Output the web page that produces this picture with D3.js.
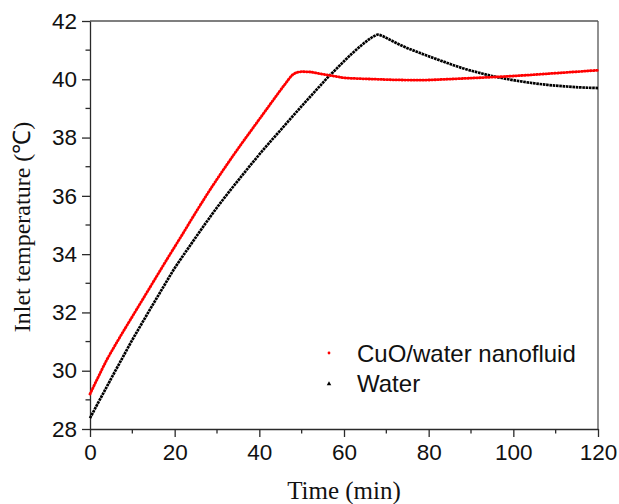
<!DOCTYPE html>
<html>
<head>
<meta charset="utf-8">
<script src="https://cdn.jsdelivr.net/npm/d3@7"></script>
<style>
  html, body { margin: 0; padding: 0; background: #fff; }
  svg { display: block; }
</style>
</head>
<body>
<svg id="chart" width="619" height="504"></svg>
<script>
// ---- data ----
const cuoTime = [0,2,4,6,8,10,12,14,16,18,20,22,24,26,28,30,32,34,36,38,40,42,44,46,48,49,50,52,54,56,58,60,64,68,72,78,84,90,96,102,108,114,120];
const cuoTemp = [29.2,29.8,30.38,30.89,31.38,31.86,32.34,32.82,33.3,33.78,34.25,34.72,35.2,35.67,36.13,36.57,37.0,37.42,37.83,38.23,38.63,39.03,39.43,39.82,40.17,40.24,40.26,40.25,40.2,40.15,40.1,40.05,40.02,40.0,39.98,39.97,40.0,40.04,40.08,40.13,40.19,40.25,40.31];

const waterTime = [0,2,4,6,8,10,12,14,16,18,20,22,24,26,28,30,32,34,36,38,40,42,44,46,48,50,52,54,56,58,60,62,64,66,67,68,69,70,72,74,76,78,80,84,88,92,96,100,104,108,112,116,120];
const waterTemp = [28.37,28.92,29.46,30.0,30.53,31.06,31.56,32.06,32.55,33.04,33.52,33.95,34.37,34.79,35.2,35.6,35.98,36.35,36.71,37.07,37.42,37.76,38.09,38.42,38.75,39.08,39.4,39.72,40.04,40.33,40.62,40.9,41.15,41.38,41.47,41.53,41.49,41.42,41.27,41.13,41.01,40.9,40.79,40.58,40.38,40.22,40.08,39.97,39.88,39.81,39.76,39.72,39.7];

const seriesNames = ["CuO/water nanofluid", "Water"];
const xTicks = [0,20,40,60,80,100,120];
const yTicks = [28,30,32,34,36,38,40,42];
const xMinorTicks = [10,30,50,70,90,110];
const yMinorTicks = [29,31,33,35,37,39,41];
const xTitle = "Time (min)";
const yTitle = "Inlet temperature (\u2103)";

// ---- layout ----
const svg = d3.select("#chart");
const L = 90, R = 598, T = 21, B = 429;
const x = d3.scaleLinear().domain([0,120]).range([L,R]);
const y = d3.scaleLinear().domain([28,42]).range([B,T]);
const axisColor = "#2a2a2a";
const tickFont = "'Liberation Sans', Arial, sans-serif";
const titleFont = "'Liberation Serif', 'Times New Roman', serif";

svg.append("rect").attr("width",619).attr("height",504).attr("fill","#fff");

// frame (top & right)
svg.append("line").attr("x1",L).attr("x2",R).attr("y1",T).attr("y2",T).attr("stroke","#555").attr("stroke-width",1.3);
svg.append("line").attr("x1",R).attr("x2",R).attr("y1",T).attr("y2",B).attr("stroke","#555").attr("stroke-width",1.3);

// bottom axis
const gx = svg.append("g").attr("transform",`translate(0,${B})`)
  .call(d3.axisBottom(x).tickValues(xTicks).tickSize(8).tickPadding(7).tickSizeOuter(0));
gx.append("g").selectAll("line").data(xMinorTicks).join("line")
  .attr("x1",d=>x(d)).attr("x2",d=>x(d)).attr("y1",0).attr("y2",4.5)
  .attr("stroke",axisColor).attr("stroke-width",1.3);

// left axis
const gy = svg.append("g").attr("transform",`translate(${L},0)`)
  .call(d3.axisLeft(y).tickValues(yTicks).tickSize(8).tickPadding(5).tickSizeOuter(0));
gy.append("g").selectAll("line").data(yMinorTicks).join("line")
  .attr("y1",d=>y(d)).attr("y2",d=>y(d)).attr("x1",0).attr("x2",-4.5)
  .attr("stroke",axisColor).attr("stroke-width",1.3);

[gx, gy].forEach(g => {
  g.select(".domain").attr("stroke",axisColor).attr("stroke-width",1.3);
  g.selectAll(".tick line").attr("stroke",axisColor).attr("stroke-width",1.3);
  g.selectAll(".tick text").attr("fill","#111").attr("font-family",tickFont).attr("font-size",22.5);
});

// axis titles
svg.append("text").attr("x",(L+R)/2).attr("y",499).attr("text-anchor","middle")
  .attr("font-family",titleFont).attr("font-size",25).attr("fill","#111").text(xTitle);
svg.append("text").attr("transform",`translate(30,${(T+B)/2+2}) rotate(-90)`).attr("text-anchor","middle")
  .attr("font-family",titleFont).attr("font-size",24).attr("fill","#111").text(yTitle);

// series
const cuo = cuoTime.map((t,i)=>[t,cuoTemp[i]]);
const water = waterTime.map((t,i)=>[t,waterTemp[i]]);
const line = d3.line().x(d=>x(d[0])).y(d=>y(d[1])).curve(d3.curveMonotoneX);

svg.append("path").datum(water).attr("d",line).attr("fill","none")
  .attr("stroke","#000").attr("stroke-width",2.7).attr("stroke-dasharray","2.6 0.7");
svg.append("path").datum(cuo).attr("d",line).attr("fill","none")
  .attr("stroke","#ff0000").attr("stroke-width",2.8).attr("stroke-linecap","round").attr("stroke-dasharray","0.8 2.2");

// legend
const legY = [353, 383];
svg.append("circle").attr("cx",329).attr("cy",legY[0]).attr("r",1.4).attr("fill","#ff0000");
svg.append("path").attr("d",d3.symbol().type(d3.symbolTriangle).size(9)()).attr("transform",`translate(329,${legY[1]+1})`).attr("fill","#000");
svg.selectAll("text.leg").data(seriesNames).join("text").attr("class","leg")
  .attr("x",357).attr("y",(d,i)=>legY[i]).attr("dy","0.36em")
  .attr("font-family",tickFont).attr("font-size",24).attr("fill","#111").text(d=>d);
</script>
</body>
</html>
